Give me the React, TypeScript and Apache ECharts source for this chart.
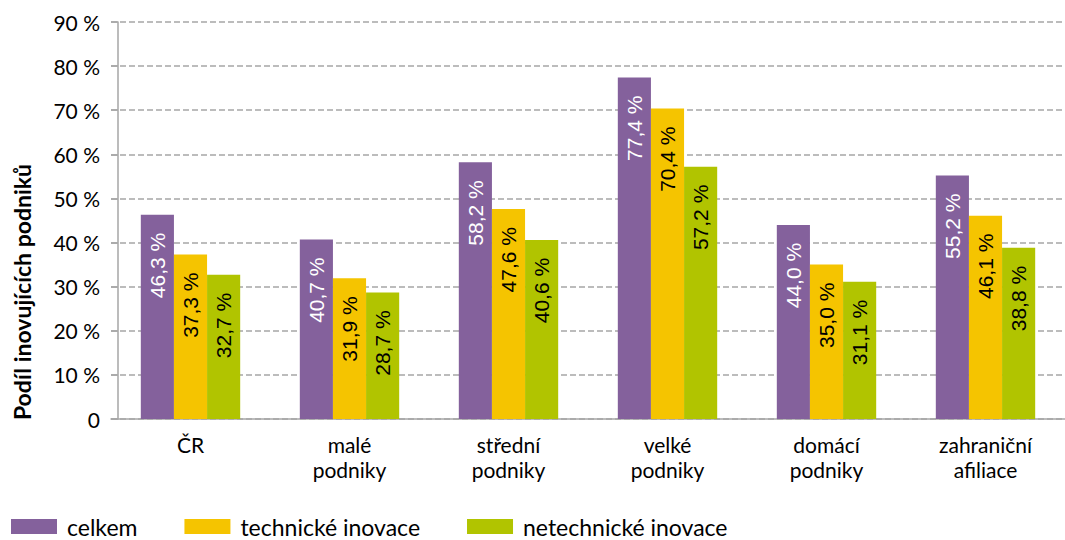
import React, { useEffect, useRef } from "react";
import * as echarts from "echarts";

const categories = ["ČR", "malé\npodniky", "střední\npodniky", "velké\npodniky", "domácí\npodniky", "zahraniční\nafiliace"];
const seriesNames = ["celkem", "technické inovace", "netechnické inovace"];
const celkem = [46.3, 40.7, 58.2, 77.4, 44.0, 55.2];
const technicke = [37.3, 31.9, 47.6, 70.4, 35.0, 46.1];
const netechnicke = [32.7, 28.7, 40.6, 57.2, 31.1, 38.8];
const yTicks = [0, 10, 20, 30, 40, 50, 60, 70, 80, 90];
const yTitle = "Podíl inovujících podniků";

const colors = ["#84619c", "#f5c400", "#b1c400"];
const labelColors = ["#ffffff", "#000000", "#000000"];
const FONT = "Lato, 'Open Sans', sans-serif";
const LABEL_FONT = "'Liberation Sans', Arial, sans-serif";

export default function App() {
  const ref = useRef<HTMLDivElement>(null);
  useEffect(() => {
    if (!ref.current) return;
    const chart = echarts.init(ref.current, null, { renderer: "svg" });
    const data = [celkem, technicke, netechnicke];
    chart.setOption({
      animation: false,
      textStyle: { fontFamily: FONT },
      grid: { left: 111, top: 22, width: 969, height: 397, containLabel: false },
      graphic: [
        {
          type: "text",
          x: 22,
          y: 292,
          rotation: Math.PI / 2,
          style: {
            text: yTitle,
            fontSize: 23,
            fontWeight: "bold",
            fill: "#000",
            fontFamily: FONT,
            align: "center",
            verticalAlign: "middle",
          },
        },
      ],
      legend: {
        left: 6,
        top: 509,
        itemWidth: 46,
        itemHeight: 15,
        itemGap: 47,
        icon: "rect",
        textStyle: { fontSize: 23, lineHeight: 25, color: "#000", fontFamily: FONT, padding: [0, 0, 0, 5] },
        data: seriesNames,
      },
      xAxis: {
        type: "category",
        data: categories,
        axisLine: { lineStyle: { color: "#a6a6a6", width: 1.5 } },
        axisTick: { length: 6, lineStyle: { color: "#a6a6a6", width: 1.5 } },
        axisLabel: { fontSize: 21, color: "#000", lineHeight: 25, margin: 13, fontFamily: FONT },
      },
      yAxis: {
        type: "value",
        min: yTicks[0],
        max: yTicks[yTicks.length - 1],
        interval: 10,
        offset: -7,
        axisLine: { show: true, lineStyle: { color: "#a6a6a6", width: 1.5 } },
        axisTick: { show: true, length: 7, lineStyle: { color: "#a6a6a6", width: 1.5 } },
        axisLabel: {
          fontSize: 21,
          color: "#000",
          margin: 18,
          fontFamily: FONT,
          formatter: (v: number) => (v === 0 ? "0" : v + " %"),
        },
        splitLine: { lineStyle: { color: "#a6a6a6", type: [6, 3], width: 1.5 } },
      },
      series: seriesNames.map((name, i) => ({
        name,
        type: "bar",
        data: data[i],
        barGap: "0%",
        barCategoryGap: "37.5%",
        itemStyle: { color: colors[i] },
        label: {
          show: true,
          position: "insideTop",
          rotate: 90,
          align: "right",
          verticalAlign: "middle",
          distance: 18,
          fontSize: 21,
          color: labelColors[i],
          fontFamily: LABEL_FONT,
          formatter: (p: any) => p.value.toFixed(1).replace(".", ",") + " %",
        },
      })),
    });
    return () => chart.dispose();
  }, []);
  return <div ref={ref} style={{ width: 1065, height: 540, position: "absolute", left: 0, top: 0 }} />;
}
